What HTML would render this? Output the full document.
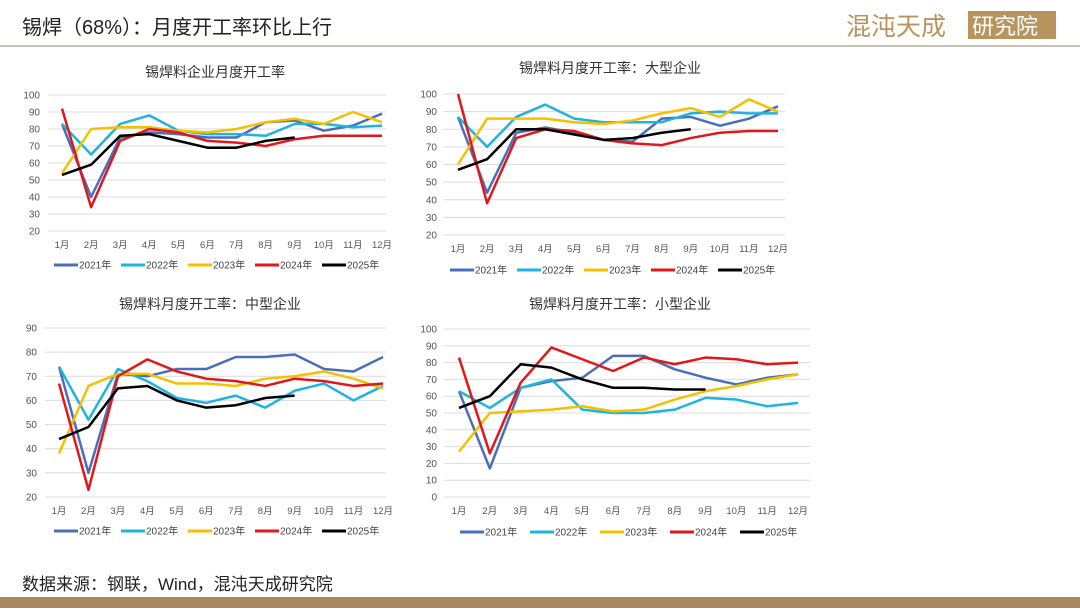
<!DOCTYPE html>
<html><head><meta charset="utf-8">
<style>
html,body{margin:0;padding:0;background:#fff;}
body{width:1080px;height:608px;overflow:hidden;position:relative;font-family:"Liberation Sans","Noto Sans CJK SC",sans-serif;}
svg text{font-family:"Liberation Sans","Noto Sans CJK SC",sans-serif;}
</style></head>
<body>
<svg id="s" width="1080" height="608" viewBox="0 0 1080 608">
  <text x="22" y="34" font-size="20" fill="#222">锡焊（68%）：月度开工率环比上行</text>
  <g>
    <text x="846" y="35" font-size="25" fill="#b8955c" font-family="Noto Serif CJK SC, serif">混沌天成</text>
    <rect x="968" y="11" width="88" height="28" fill="#b8955c"/>
    <text x="972" y="34" font-size="22" fill="#fff">研究院</text>
  </g>
  <rect x="0" y="45" width="1080" height="2" fill="#c9c2b3"/>
  <text x="22" y="590" font-size="17" fill="#222">数据来源：钢联，Wind，混沌天成研究院</text>
  <rect x="0" y="597" width="1080" height="11" fill="#a88a5e"/>
</svg>
<script>
const months = ['1月','2月','3月','4月','5月','6月','7月','8月','9月','10月','11月','12月'];
const seriesNames = ['2021年','2022年','2023年','2024年','2025年'];
const colors = ['#4a6fb8','#1fb4e0','#f5c000','#e0181b','#000000'];

const c1Title = '锡焊料企业月度开工率';
const c1Ticks = [20,30,40,50,60,70,80,90,100];
const c1_2021 = [83,40,75,78,77,75,75,84,85,79,82,89];
const c1_2022 = [83,65,83,88,79,77,77,76,83,83,81,82];
const c1_2023 = [54,80,81,81,79,78,80,84,86,83,90,84];
const c1_2024 = [92,34,73,80,78,73,72,70,74,76,76,76];
const c1_2025 = [53,59,76,77,73,69,69,73,75];

const c2Title = '锡焊料月度开工率：大型企业';
const c2Ticks = [20,30,40,50,60,70,80,90,100];
const c2_2021 = [87,44,78,81,78,74,73,86,87,82,86,93];
const c2_2022 = [87,70,87,94,86,84,84,84,89,90,89,89];
const c2_2023 = [60,86,86,86,84,83,85,89,92,87,97,90];
const c2_2024 = [100,38,75,80,79,74,72,71,75,78,79,79];
const c2_2025 = [57,63,80,80,77,74,75,78,80];

const c3Title = '锡焊料月度开工率：中型企业';
const c3Ticks = [20,30,40,50,60,70,80,90];
const c3_2021 = [74,30,71,70,73,73,78,78,79,73,72,78];
const c3_2022 = [74,52,73,68,61,59,62,57,64,67,60,66];
const c3_2023 = [38,66,71,71,67,67,66,69,70,72,69,65];
const c3_2024 = [67,23,70,77,72,69,68,66,69,68,66,67];
const c3_2025 = [44,49,65,66,60,57,58,61,62];

const c4Title = '锡焊料月度开工率：小型企业';
const c4Ticks = [0,10,20,30,40,50,60,70,80,90,100];
const c4_2021 = [63,17,65,69,71,84,84,76,71,67,71,73];
const c4_2022 = [63,53,65,70,52,50,50,52,59,58,54,56];
const c4_2023 = [27,50,51,52,54,51,52,58,63,66,70,73];
const c4_2024 = [83,26,68,89,82,75,83,79,83,82,79,80];
const c4_2025 = [53,60,79,77,70,65,65,64,64];

const NS='http://www.w3.org/2000/svg';
const svg=document.getElementById('s');
function mk(tag,attrs,parent){const e=document.createElementNS(NS,tag);for(const k in attrs)e.setAttribute(k,attrs[k]);(parent||svg).appendChild(e);return e;}

function drawChart(id,cfg,title,ticks,data){
  const g=mk('g',{});
  
  
  const ymin=ticks[0],ymax=ticks[ticks.length-1];
  const y=v=>cfg.yb-(v-ymin)/(ymax-ymin)*(cfg.yb-cfg.yt);
  const x=i=>cfg.x0+i*(cfg.x1-cfg.x0)/(months.length-1);
  const t=mk('text',{x:cfg.tx,y:cfg.ty,'font-size':14,fill:'#333','text-anchor':'middle'},g);
  t.textContent=title;
  
  
  ticks.forEach(v=>{
    const l=mk('line',{x1:cfg.gl,x2:cfg.gr,y1:y(v),y2:y(v),stroke:'#dcdcdc','stroke-width':1},g);
    
    
    const tt=mk('text',{x:cfg.lx,y:y(v)+3.5,'font-size':10,fill:'#555','text-anchor':'end'},g);
    tt.textContent=v;
    
    
  });
  months.forEach((m,i)=>{
    const tt=mk('text',{x:x(i),y:cfg.yb+17,'font-size':9.5,fill:'#555','text-anchor':'middle'},g);
    tt.textContent=m;
    
    
  });
  data.forEach((arr,si)=>{
    const pts=arr.map((v,i)=>x(i)+','+y(v)).join(' ');
    const p=mk('polyline',{points:pts,fill:'none',stroke:colors[si],'stroke-width':2.5,'stroke-linejoin':'round'},g);
    
    
  });
  seriesNames.forEach((n,si)=>{
    const lx=cfg.legx+si*cfg.legw;
    const lg=mk('g',{},g);
    
    
    mk('line',{x1:lx,x2:lx+24,y1:cfg.legy,y2:cfg.legy,stroke:colors[si],'stroke-width':3},lg);
    const tt=mk('text',{x:lx+25,y:cfg.legy+3.5,'font-size':10,fill:'#444'},lg);
    tt.textContent=n;
  });
}

drawChart('chart-overall',{x0:62,x1:382,yt:95,yb:231,gl:48,gr:386,lx:40,tx:215,ty:77,legx:54,legw:67,legy:265},c1Title,c1Ticks,[c1_2021,c1_2022,c1_2023,c1_2024,c1_2025]);
drawChart('chart-large',{x0:458,x1:778,yt:94,yb:235,gl:443,gr:785,lx:437,tx:610,ty:73,legx:450,legw:67,legy:270},c2Title,c2Ticks,[c2_2021,c2_2022,c2_2023,c2_2024,c2_2025]);
drawChart('chart-medium',{x0:59,x1:383,yt:328,yb:497,gl:45,gr:386,lx:37,tx:210,ty:309,legx:54,legw:67,legy:531},c3Title,c3Ticks,[c3_2021,c3_2022,c3_2023,c3_2024,c3_2025]);
drawChart('chart-small',{x0:459,x1:798,yt:329,yb:497,gl:444,gr:810,lx:437,tx:620,ty:309,legx:460,legw:70,legy:532},c4Title,c4Ticks,[c4_2021,c4_2022,c4_2023,c4_2024,c4_2025]);
</script>
</body></html>
